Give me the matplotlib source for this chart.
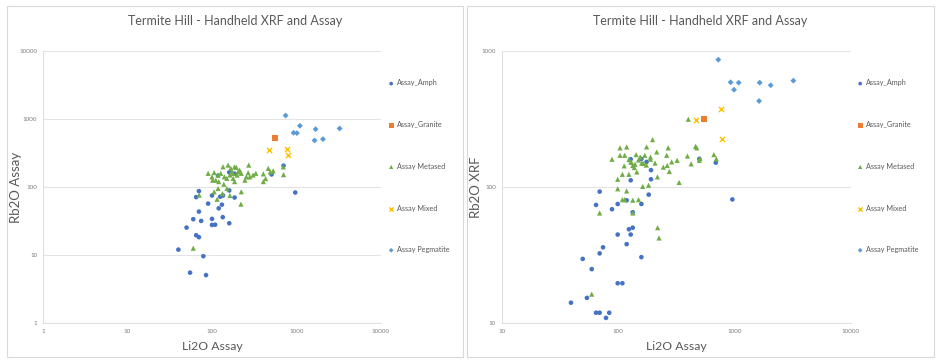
import matplotlib.pyplot as plt
from matplotlib.patches import Rectangle

plt.rcParams['font.family'] = ['Lato', 'DejaVu Sans']

title = "Termite Hill - Handheld XRF and Assay"
groups = ["Assay_Amph", "Assay_Granite", "Assay Metased", "Assay Mixed", "Assay Pegmatite"]

# Left chart: Li2O Assay vs Rb2O Assay
left_amph_x = [40, 55, 85, 79, 50, 60, 65, 70, 70, 74.5, 65, 70, 90, 100, 100, 100, 109,
               120, 125, 131, 135, 134, 160, 160, 185, 160, 185, 118, 507, 703, 967]
left_amph_y = [12, 5.5, 5.06, 9.6, 25.3, 33.6, 19.5, 18.3, 43.5, 31.7, 71, 87, 57, 75, 34,
               27.7, 27.9, 48.6, 72, 55, 75, 36, 29.3, 89, 70, 164, 157, 147, 153, 206, 83]
left_gran_x = [560]
left_gran_y = [523]
left_meta_x = [60, 70.5, 90, 100, 106, 111, 118, 135, 155, 167, 178, 194, 204, 212, 272,
               268, 185, 245, 280, 330, 405, 431, 405, 463, 490, 530, 697, 703, 106, 118,
               115, 133, 150, 163, 222, 220, 102, 120, 138, 150, 163, 178, 198, 222, 255,
               306, 127, 140, 172, 185]
left_meta_y = [12.6, 76, 159, 141, 163, 126, 150, 198, 210, 188, 159, 194, 167, 177, 210,
               162, 120, 126, 141, 159, 156, 133, 120, 188, 167, 173, 198, 152, 85, 95,
               66, 80, 95, 75, 85, 56, 126, 120, 110, 134, 150, 134, 150, 159, 141,
               150, 159, 141, 167, 198]
left_mix_x = [471, 777, 791]
left_mix_y = [345, 357, 298]
left_peg_x = [743, 1097, 923, 1011, 1683, 1637, 2056, 3238]
left_peg_y = [1125, 794, 627, 620, 709, 484, 506, 726]

# Right chart: Li2O Assay vs Rb2O XRF
right_amph_x = [39.4, 54, 64.7, 69.5, 78.8, 84, 49.7, 59.4, 69.5, 74.3, 99.3, 109, 99.3,
                118.6, 124, 128.5, 133.7, 158.8, 64.7, 69.5, 88.7, 99.3, 118.6, 133.7,
                158.8, 183.5, 128.5, 192, 192, 128.5, 158.8, 176, 692, 500, 961]
right_amph_y = [14.1, 15.3, 11.9, 11.9, 10.9, 11.9, 29.6, 24.9, 32.5, 36, 19.6, 19.6, 44.7,
                38, 48.9, 44.7, 50.2, 30.5, 73.8, 92.5, 68.6, 75, 79.8, 65.2,
                75, 87.9, 112, 114, 133, 160, 161, 153, 151, 161, 81]
right_gran_x = [552]
right_gran_y = [315]
right_meta_x = [59.4, 69.5, 88.7, 99.3, 99.3, 104, 104, 109, 113, 114, 109, 114, 118.6,
                118.6, 124, 124, 129, 134, 134, 134, 138, 143, 145, 150, 155, 163, 165,
                170, 176, 183, 190, 198, 208, 215, 218, 219, 225, 245, 262, 270, 265,
                276, 289, 322, 335, 402, 395, 425, 464, 475, 500, 667, 700, 505, 150,
                160, 140, 130, 175, 190]
right_meta_y = [16.3, 64.4, 160, 114, 97, 194, 171, 124, 143, 171, 80.7, 80.7, 197,
                93.5, 124, 159, 153, 144, 80, 64.4, 139, 173, 129, 80.7, 166, 101, 149,
                171, 197, 103, 166, 223, 150, 181, 118.6, 50.2, 42.2, 140, 171, 194, 144,
                130, 153, 157, 108, 315, 169, 148, 199, 194, 157, 173, 161, 162, 158,
                150, 147, 152, 145, 160]
right_mix_x = [468, 773, 783]
right_mix_y = [311, 372, 224]
right_peg_x = [728, 929, 1089, 993, 1651, 2052, 1630, 3214]
right_peg_y = [863, 589, 585, 519, 585, 560, 429, 605]

styles = [
    dict(marker='o', color='#4472C4', s=11),
    dict(marker='s', color='#ED7D31', s=20),
    dict(marker='^', color='#70AD47', s=14),
    dict(marker='x', color='#FFC000', s=14, linewidths=1.0),
    dict(marker='D', color='#5B9BD5', s=9),
]

W, H = 942, 363
fig = plt.figure(figsize=(W / 100, H / 100), dpi=100)
fig.patch.set_facecolor('white')


def px(x, y):
    return x / W, 1 - y / H


def panel(rect, border, data, xlim, ylim, ylabel, legend_x):
    ax = fig.add_axes(rect)
    for (xs, ys), name, st in zip(data, groups, styles):
        ax.scatter(xs, ys, label=name, edgecolors='none' if st['marker'] != 'x' else None,
                   zorder=3, **st)
    ax.set_xscale('log')
    ax.set_yscale('log')
    ax.set_xlim(*xlim)
    ax.set_ylim(*ylim)
    ax.minorticks_off()
    ax.grid(axis='y', color='#e4e4e4', linewidth=0.8)
    ax.set_axisbelow(True)
    for s in ['top', 'right']:
        ax.spines[s].set_visible(False)
    for s in ['left', 'bottom']:
        ax.spines[s].set_color('#e0e0e0')
        ax.spines[s].set_linewidth(0.8)
    ax.tick_params(length=0, labelsize=4.5, labelcolor='#7f7f7f', pad=4)
    ax.xaxis.set_major_formatter(plt.FuncFormatter(lambda v, p: f"{v:g}"))
    ax.yaxis.set_major_formatter(plt.FuncFormatter(lambda v, p: f"{v:g}"))

    x0, x1 = border
    fig.patches.append(Rectangle(px(x0, 357), (x1 - x0) / W, 351 / H,
                                 transform=fig.transFigure, fill=False,
                                 edgecolor='#d9d9d9', linewidth=0.8))
    cx = (x0 + x1) / 2
    fig.text(*px(cx, 21), title, ha='center', va='center', fontsize=9, color='#595959')
    axc = (rect[0] + rect[2] / 2)
    fig.text(axc, 1 - 346 / H, "Li2O Assay", ha='center', va='center',
             fontsize=8.8, color='#595959')
    fig.text((x0 + 9) / W, 1 - 187 / H, ylabel, ha='center', va='center',
             rotation=90, fontsize=9.5, color='#595959')
    leg = ax.legend(loc='upper left', bbox_to_anchor=px(legend_x, 79.5),
                    bbox_transform=fig.transFigure, frameon=False, fontsize=5.2,
                    labelspacing=4.8, handlelength=0.6, handletextpad=0.5,
                    borderpad=0, borderaxespad=0, markerscale=0.8)
    for t in leg.get_texts():
        t.set_color('#595959')
    return ax


panel([43 / W, 40 / H, 338 / W, 272 / H], (7, 463),
      [(left_amph_x, left_amph_y), (left_gran_x, left_gran_y),
       (left_meta_x, left_meta_y), (left_mix_x, left_mix_y),
       (left_peg_x, left_peg_y)],
      (1, 10000), (1, 10000), "Rb2O Assay", 389)

panel([501.7 / W, 40 / H, 349 / W, 272 / H], (467, 934),
      [(right_amph_x, right_amph_y), (right_gran_x, right_gran_y),
       (right_meta_x, right_meta_y), (right_mix_x, right_mix_y),
       (right_peg_x, right_peg_y)],
      (10, 10000), (10, 1000), "Rb2O XRF", 858)

fig.savefig('out.png', dpi=100)
